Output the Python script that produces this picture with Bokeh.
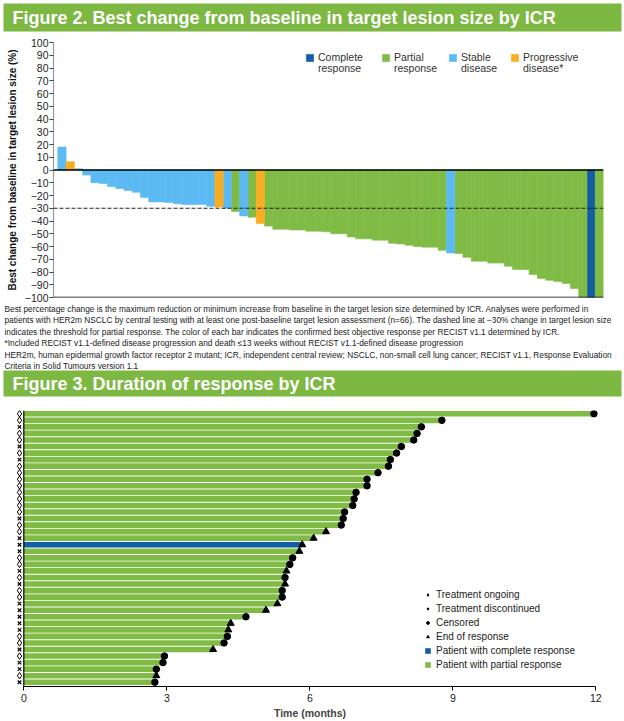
from bokeh.plotting import figure
from bokeh.models import Range1d, Span, Legend, LegendItem, FixedTicker, ColumnDataSource
from bokeh.embed import file_html
from bokeh.resources import INLINE
from bokeh.core.properties import value

# ---------------- data: Figure 2 (waterfall) ----------------
wf_change = [18, 6.5, 1, -4, -10, -10.5, -13, -14.5, -16, -17.5,
             -21.5, -25, -25, -25.5, -26.5, -27, -27, -27, -28.5, -29,
             -30, -32.5, -36, -37, -42, -44, -46.5, -46.5, -47, -47,
             -48, -48, -48.5, -50, -50, -52.5, -54, -54, -55, -55,
             -57.5, -58, -59, -60, -60.5, -60.5, -63, -65, -65.5, -68.5,
             -71.5, -71.5, -73, -73, -75.5, -78, -78, -82, -85, -86.5,
             -87.5, -89, -93, -100, -100, -100]
wf_response = ["SD", "PD", "SD", "SD", "SD", "SD", "SD", "SD", "SD", "SD",
               "SD", "SD", "SD", "SD", "SD", "SD", "SD", "SD", "SD", "PD",
               "SD", "PR", "SD", "PR", "PD", "PR", "PR", "PR", "PR", "PR",
               "PR", "PR", "PR", "PR", "PR", "PR", "PR", "PR", "PR", "PR",
               "PR", "PR", "PR", "PR", "PR", "PR", "PR", "SD", "PR", "PR",
               "PR", "PR", "PR", "PR", "PR", "PR", "PR", "PR", "PR", "PR",
               "PR", "PR", "PR", "PR", "CR", "PR"]
resp_codes = ["CR", "PR", "SD", "PD"]
resp_line1 = ["Complete", "Partial", "Stable", "Progressive"]
resp_line2 = ["response", "response", "disease", "disease*"]
y_ticks = [-100, -90, -80, -70, -60, -50, -40, -30, -20, -10, 0, 10, 20, 30, 40, 50, 60, 70, 80, 90, 100]
pr_threshold = -30

# ---------------- data: Figure 3 (swimmer) ----------------
dor_months = [11.96, 8.77, 8.34, 8.25, 8.18, 7.92, 7.82, 7.69, 7.65, 7.43,
              7.20, 7.20, 6.97, 6.93, 6.90, 6.73, 6.70, 6.66, 6.34, 6.08,
              5.84, 5.78, 5.64, 5.58, 5.51, 5.48, 5.48, 5.42, 5.42, 5.32,
              5.08, 4.66, 4.34, 4.29, 4.27, 4.20, 3.97, 2.95, 2.92, 2.78,
              2.78, 2.75]
dor_event = ["C", "C", "C", "C", "C", "C", "C", "C", "C", "C",
             "C", "C", "C", "C", "C", "C", "C", "C", "E", "E",
             "E", "E", "C", "C", "E", "C", "E", "C", "C", "E",
             "E", "C", "E", "E", "C", "C", "E", "C", "C", "C",
             "E", "C"]
dor_treatment = ["O", "O", "D", "O", "O", "D", "O", "D", "O", "O",
                 "O", "O", "O", "O", "O", "O", "D", "O", "O", "D",
                 "D", "D", "O", "O", "D", "O", "D", "O", "O", "D",
                 "D", "D", "D", "D", "O", "O", "D", "O", "D", "D",
                 "O", "D"]
dor_response = ["PR", "PR", "PR", "PR", "PR", "PR", "PR", "PR", "PR", "PR",
                "PR", "PR", "PR", "PR", "PR", "PR", "PR", "PR", "PR", "PR",
                "CR", "PR", "PR", "PR", "PR", "PR", "PR", "PR", "PR", "PR",
                "PR", "PR", "PR", "PR", "PR", "PR", "PR", "PR", "PR", "PR",
                "PR", "PR"]
time_ticks = [0, 3, 6, 9, 12]

footnotes = [
    "Best percentage change is the maximum reduction or minimum increase from baseline in the target lesion size determined by ICR. Analyses were performed in",
    "patients with HER2m NSCLC by central testing with at least one post-baseline target lesion assessment (n=66). The dashed line at \u221230% change in target lesion size",
    "indicates the threshold for partial response. The color of each bar indicates the confirmed best objective response per RECIST v1.1 determined by ICR.",
    "*Included RECIST v1.1-defined disease progression and death \u226413 weeks without RECIST v1.1-defined disease progression",
    "HER2m, human epidermal growth factor receptor 2 mutant; ICR, independent central review; NSCLC, non-small cell lung cancer; RECIST v1.1, Response Evaluation",
    "Criteria in Solid Tumours version 1.1",
]

# ---------------- styles ----------------
COLORS = {"CR": "#135da2", "PR": "#80bc45", "SD": "#5bbaf2", "PD": "#f9ad22"}
HEAD_GREEN = "#7db843"
FONT = "'Liberation Sans', Arial, sans-serif"
W = 624


def header(text, h, top, bottom):
    f = figure(width=W, height=h, x_range=Range1d(0, W - 6), y_range=Range1d(0, h - top - bottom),
               output_backend="svg", toolbar_location=None,
               min_border_left=3, min_border_right=3, min_border_top=top, min_border_bottom=bottom)
    f.background_fill_color = HEAD_GREEN
    f.border_fill_color = "white"
    f.outline_line_color = None
    f.axis.visible = False
    f.grid.visible = False
    f.text(x=[9], y=[(h - top - bottom) / 2], text=[text], text_color="white", text_font=value(FONT),
           text_font_style="bold", text_font_size="18px", text_baseline="middle")
    return f


h1 = header("Figure 2. Best change from baseline in target lesion size by ICR", 32, 3, 1)

# ---------------- waterfall ----------------
p1 = figure(width=W, height=271, x_range=Range1d(-0.02, 66.5), y_range=Range1d(-100, 100),
            output_backend="svg", toolbar_location=None,
            min_border_left=53, min_border_right=21, min_border_top=10, min_border_bottom=6)
p1.outline_line_color = None
p1.grid.visible = False
p1.xaxis.visible = False

blank = p1.vbar(x=[], top=[], width=1, fill_alpha=0, line_alpha=0)


def make_legend(label, renderer, loc):
    return Legend(items=[LegendItem(label=label, renderers=[renderer])],
                  location=loc, orientation="vertical",
                  glyph_width=9, glyph_height=9, label_standoff=4, label_height=12,
                  label_text_font=FONT, label_text_font_size="10.5px", label_text_color="#333333",
                  padding=0, margin=0, border_line_color=None, background_fill_alpha=0)


legend_x = [252, 328, 395, 457]
for k, code in enumerate(resp_codes):
    xs = [i + 1 for i, r in enumerate(wf_response) if r == code]
    tops = [wf_change[i] for i, r in enumerate(wf_response) if r == code]
    src = ColumnDataSource(dict(x=xs, top=tops))
    r = p1.vbar(x="x", top="top", bottom=0, width=1, source=src,
                fill_color=COLORS[code], line_color=COLORS[code], line_width=0.6)
    p1.add_layout(make_legend(resp_line1[k], r, (legend_x[k], 234)))
    p1.add_layout(make_legend(resp_line2[k], blank, (legend_x[k], 223)))

p1.add_layout(Span(location=0, dimension="width", line_color="black", line_width=1.5))
p1.add_layout(Span(location=-100, dimension="width", line_color="black", line_width=1.5))
p1.add_layout(Span(location=pr_threshold, dimension="width", line_color="#222222",
                   line_width=1.2, line_dash="4 2"))

ya = p1.yaxis[0]
ya.ticker = FixedTicker(ticks=y_ticks)
ya.major_label_overrides = {t: (str(t).replace("-", "\u2212")) for t in y_ticks}
ya.minor_tick_line_color = None
ya.major_tick_out = 4
ya.major_tick_in = 0
ya.major_tick_line_color = "#444444"
ya.axis_line_color = "#999999"
ya.axis_line_width = 1.2
ya.major_label_standoff = 1
ya.major_label_text_font = FONT
ya.major_label_text_font_size = "10.5px"
ya.major_label_text_color = "#222222"
ya.axis_label = "Best change from baseline in target lesion size (%)"
ya.axis_label_text_font = FONT
ya.axis_label_text_font_style = "bold"
ya.axis_label_text_font_size = "10px"
ya.axis_label_text_color = "#111111"
ya.axis_label_standoff = 4

# ---------------- footnotes ----------------
fn_h = 67
fn = figure(width=W, height=fn_h, x_range=Range1d(0, W), y_range=Range1d(fn_h, 0),
            output_backend="svg", toolbar_location=None, min_border=0)
fn.outline_line_color = None
fn.axis.visible = False
fn.grid.visible = False
fn.text(x=[4] * len(footnotes), y=[5.5 + 11.4 * i for i in range(len(footnotes))], text=footnotes,
        text_font=value(FONT), text_font_size="8.3px", text_color="#222222", text_baseline="middle")

h2 = header("Figure 3. Duration of response by ICR", 27, 0, 1)

# ---------------- swimmer ----------------
p2 = figure(width=W, height=324, x_range=Range1d(-0.405, 12.412), y_range=Range1d(42.65, 0.5),
            output_backend="svg", toolbar_location=None,
            min_border_left=4, min_border_right=9, min_border_top=13, min_border_bottom=0)
p2.outline_line_color = None
p2.grid.visible = False
p2.yaxis.visible = False

rows = list(range(1, len(dor_months) + 1))
MARK_X = -0.09


def sub(cond):
    return [i for i in range(len(rows)) if cond(i)]


idx_cr = sub(lambda i: dor_response[i] == "CR")
idx_pr = sub(lambda i: dor_response[i] == "PR")
r_cr = p2.hbar(y=[rows[i] for i in idx_cr], left=0, right=[dor_months[i] for i in idx_cr],
               height=0.86, fill_color=COLORS["CR"], line_color=None)
r_pr = p2.hbar(y=[rows[i] for i in idx_pr], left=0, right=[dor_months[i] for i in idx_pr],
               height=0.86, fill_color=COLORS["PR"], line_color=None)

p2.add_layout(Span(location=0, dimension="height", line_color="black", line_width=1.2))

idx_o = sub(lambda i: dor_treatment[i] == "O")
idx_d = sub(lambda i: dor_treatment[i] == "D")
r_o = p2.scatter(x=[MARK_X] * len(idx_o), y=[rows[i] for i in idx_o], marker="diamond",
                 size=6.5, fill_color="white", line_color="black", line_width=1)
r_d = p2.scatter(x=[MARK_X] * len(idx_d), y=[rows[i] for i in idx_d], marker="x",
                 size=5, line_color="black", line_width=1.2)

idx_c = sub(lambda i: dor_event[i] == "C")
idx_e = sub(lambda i: dor_event[i] == "E")
r_c = p2.scatter(x=[dor_months[i] for i in idx_c], y=[rows[i] for i in idx_c], marker="circle",
                 size=6.5, fill_color="black", line_color="black")
r_e = p2.scatter(x=[dor_months[i] for i in idx_e], y=[rows[i] for i in idx_e], marker="triangle",
                 size=7, fill_color="black", line_color="black")

leg2 = Legend(items=[LegendItem(label="Treatment ongoing", renderers=[r_o]),
                     LegendItem(label="Treatment discontinued", renderers=[r_d]),
                     LegendItem(label="Censored", renderers=[r_c]),
                     LegendItem(label="End of response", renderers=[r_e]),
                     LegendItem(label="Patient with complete response", renderers=[r_cr]),
                     LegendItem(label="Patient with partial response", renderers=[r_pr])],
              location=(420, 16), orientation="vertical",
              glyph_width=7, glyph_height=7, label_standoff=5, spacing=3, label_height=10,
              label_text_font=FONT, label_text_font_size="10px", label_text_color="#222222",
              padding=0, margin=0, border_line_color=None, background_fill_alpha=0)
p2.add_layout(leg2)

xa = p2.xaxis[0]
xa.bounds = (0, 12)
xa.ticker = FixedTicker(ticks=time_ticks)
xa.minor_tick_line_color = None
xa.major_tick_out = 4
xa.major_tick_in = 0
xa.axis_line_color = "black"
xa.axis_line_width = 1.2
xa.major_tick_line_color = "black"
xa.major_label_standoff = 3
xa.major_label_text_font = FONT
xa.major_label_text_font_size = "10.5px"
xa.major_label_text_color = "#222222"
xa.axis_label = "Time (months)"
xa.axis_label_text_font = FONT
xa.axis_label_text_font_style = "bold"
xa.axis_label_text_font_size = "10.5px"
xa.axis_label_standoff = 2

# separate roots so that plot frames are not aligned with each other
open("out.html", "w").write(file_html([h1, p1, fn, h2, p2], INLINE))
